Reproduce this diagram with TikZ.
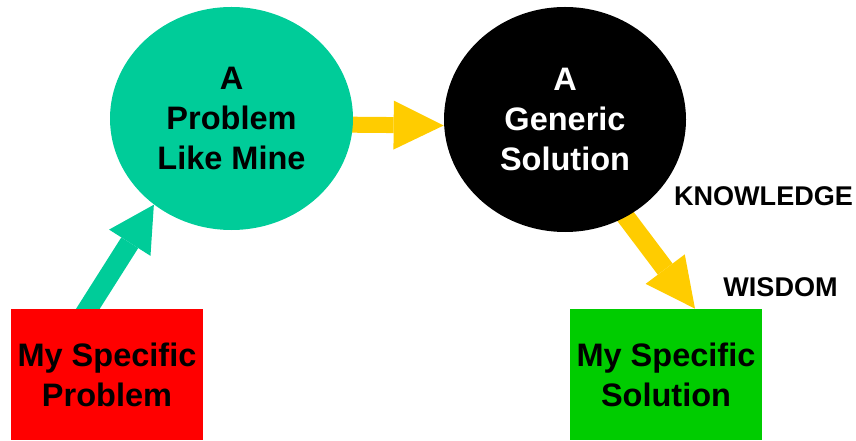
\documentclass[tikz,border=0pt]{standalone}
\usepackage{fontspec}
\setmainfont{Liberation Sans}
\usetikzlibrary{arrows.meta,calc,shapes.geometric,backgrounds}
\definecolor{teal1}{RGB}{0,204,153}
\definecolor{gold1}{RGB}{255,204,0}
\definecolor{red1}{RGB}{255,0,0}
\definecolor{green1}{RGB}{0,204,0}

\begin{document}
\begin{tikzpicture}[
	bigtxt/.style={align=center,font=\fontsize{18.5pt}{22.8pt}\selectfont\bfseries},
	blob/.style={ellipse,bigtxt,inner sep=0pt},
	card/.style={rectangle,bigtxt,inner sep=0pt,minimum width=3.84cm,minimum height=2.62cm},
	lbl/.style={font=\fontsize{15.4pt}{18pt}\selectfont\bfseries},
	fat/.style={-{Triangle[length=#1,width=0.98cm,line width=0pt]}}
	]
		\useasboundingbox (0,0) rectangle (17.12,8.8);
		\node[blob,fill=teal1,minimum width=4.86cm,minimum height=4.46cm] (Like) at (4.63,6.43) {A\\Problem\\Like Mine};
		\node[blob,fill=black,text=white,minimum width=4.84cm,minimum height=4.5cm] (Gen) at (11.3,6.41) {A\\Generic\\Solution};
		\node[card,fill=red1] (Prob) at (2.14,1.31) {My Specific\\Problem};
		\node[card,fill=green1] (Sol) at (13.32,1.31) {My Specific\\Solution};
		\node[lbl] (K) at (15.27,4.88) {KNOWLEDGE};
		\node[lbl] (W) at (15.61,3.05) {WISDOM};
		\coordinate (tailL) at ($(Prob.north) + (-0.38,0)$);
		\coordinate (tipS) at ($(Sol.north) + (0.58,0)$);
		\begin{pgfonlayer}{background}
		\draw[teal1,line width=0.4cm,fat=0.9cm] ($(tailL)!-0.4cm!(Like.228)$) -- (Like.228);
		\draw[gold1,line width=0.32cm,fat=1cm] ($(Like.east) + (-0.5,-0.12)$) -- ($(Gen.west) + (0,-0.12)$);
		\draw[gold1,line width=0.37cm,fat=0.99cm] ($(Gen.-58)!-0.5cm!(tipS)$) -- (tipS);
		\end{pgfonlayer}
	\end{tikzpicture}
\end{document}
